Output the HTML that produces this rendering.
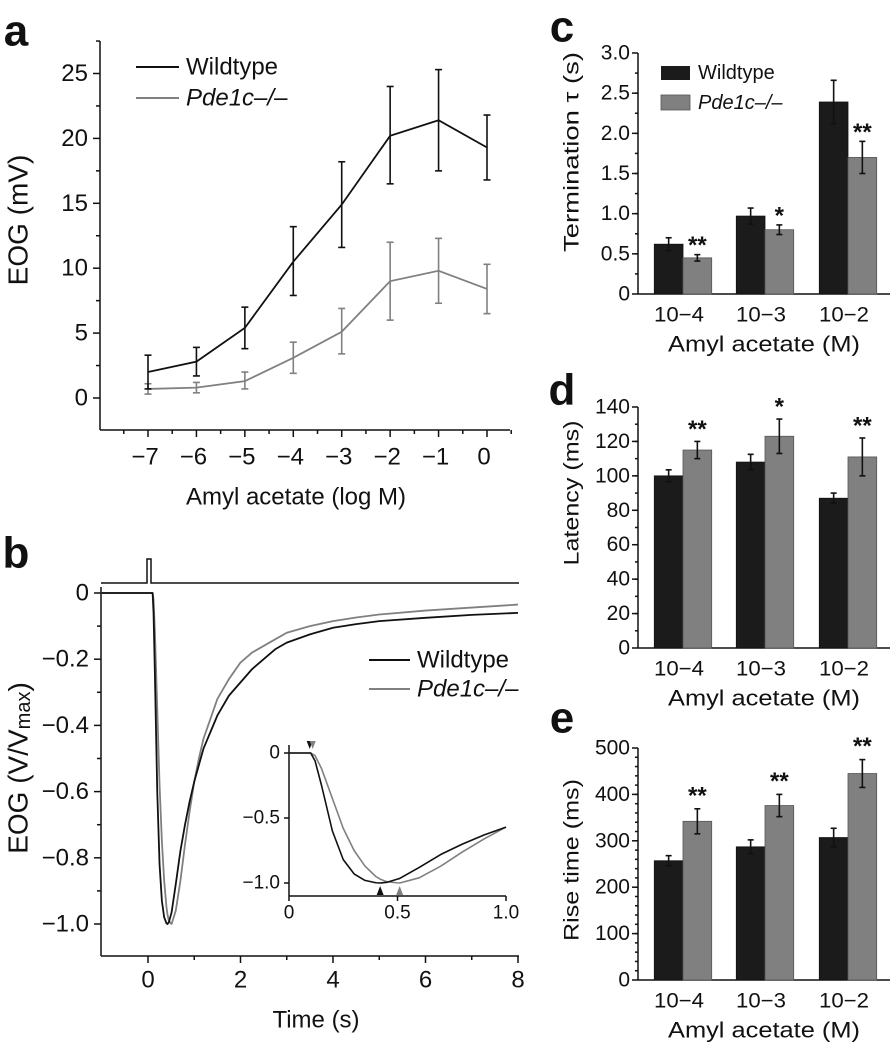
<!DOCTYPE html>
<html><head><meta charset="utf-8"><style>
html,body{margin:0;padding:0;background:#fff;}
svg{display:block;font-family:"Liberation Sans",Arial,sans-serif;}
</style></head><body>
<svg id="fig" width="890" height="1050" viewBox="0 0 890 1050" xmlns="http://www.w3.org/2000/svg"></svg>
<script>
// ---------- Panel a data ----------
const aConc = [-7,-6,-5,-4,-3,-2,-1,0];
const aWT = [2.0,2.8,5.4,10.5,14.9,20.2,21.4,19.3];
const aWTlo = [0.7,1.7,3.8,7.9,11.6,16.5,17.5,16.8];
const aWThi = [3.3,3.9,7.0,13.2,18.2,24.0,25.3,21.8];
const aKO = [0.7,0.8,1.3,3.1,5.1,9.0,9.8,8.4];
const aKOlo = [0.3,0.4,0.7,1.9,3.4,6.0,7.3,6.5];
const aKOhi = [1.1,1.2,2.0,4.3,6.9,12.0,12.3,10.3];
const aYTicks = [0,5,10,15,20,25];
const aXTicks = [-7,-6,-5,-4,-3,-2,-1,0];
// ---------- Panel b data ----------
const bTime = [-1,0,0.1,0.12,0.15,0.2,0.25,0.3,0.35,0.4,0.42,0.45,0.5,0.51,0.6,0.7,0.8,0.9,1.0,1.1,1.2,1.35,1.5,1.75,2,2.25,2.5,2.75,3,3.5,4,4.5,5,6,7,8];
const bWT = [0,0,0,-0.06,-0.25,-0.6,-0.82,-0.93,-0.98,-0.998,-1.0,-0.995,-0.97,-0.965,-0.88,-0.78,-0.7,-0.63,-0.57,-0.52,-0.47,-0.42,-0.37,-0.31,-0.27,-0.23,-0.2,-0.17,-0.15,-0.125,-0.105,-0.094,-0.085,-0.075,-0.066,-0.06];
const bKO = [0,0,0,-0.02,-0.12,-0.35,-0.58,-0.75,-0.87,-0.95,-0.97,-0.99,-0.999,-1.0,-0.96,-0.87,-0.76,-0.66,-0.57,-0.5,-0.44,-0.38,-0.32,-0.26,-0.21,-0.18,-0.16,-0.14,-0.12,-0.1,-0.085,-0.074,-0.065,-0.053,-0.044,-0.035];
const bYTicks = [0,-0.2,-0.4,-0.6,-0.8,-1.0];
const bYLabels = ["0","\u22120.2","\u22120.4","\u22120.6","\u22120.8","\u22121.0"];
const bXTicks = [0,2,4,6,8];
const insetXTicks = [0,0.5,1.0];
const insetXLabels = ["0","0.5","1.0"];
const insetYTicks = [0,-0.5,-1.0];
const insetYLabels = ["0","\u22120.5","\u22121.0"];
const peakWT = 0.42, peakKO = 0.51, onsetT = 0.1;
// ---------- Bar panels data ----------
const barCats = ["10\u22124","10\u22123","10\u22122"];
const cWT = [0.62,0.97,2.39], cWTerr = [0.08,0.10,0.27];
const cKO = [0.45,0.80,1.70], cKOerr = [0.04,0.06,0.20];
const cStars = ["**","*","**"];
const cTicks = [0,0.5,1.0,1.5,2.0,2.5,3.0];
const cTickLabels = ["0","0.5","1.0","1.5","2.0","2.5","3.0"];
const dWT = [100,108,87], dWTerr = [3.5,4.5,3];
const dKO = [115,123,111], dKOerr = [5,10,11];
const dStars = ["**","*","**"];
const dTicks = [0,20,40,60,80,100,120,140];
const eWT = [257,287,307], eWTerr = [11,15,20];
const eKO = [342,376,445], eKOerr = [27,24,30];
const eStars = ["**","**","**"];
const eTicks = [0,100,200,300,400,500];

const NS = "http://www.w3.org/2000/svg";
const svg = document.getElementById('fig');
function el(tag, attrs, name, parent){
  const e = document.createElementNS(NS, tag);
  for (const k in attrs) e.setAttribute(k, attrs[k]);
  
  
  (parent||svg).appendChild(e);
  return e;
}
function txt(x,y,s,size,name,opts){
  opts = opts||{};
  const t = el('text', {x:x,y:y,'font-size':size,'text-anchor':opts.anchor||'middle','dominant-baseline':'central',fill:opts.fill||'#111','font-weight':opts.weight||'normal','font-style':opts.style||'normal'}, name);
  if (opts.rot) t.setAttribute('transform','rotate(-90 '+x+' '+y+')');
  if (opts.len) { t.setAttribute('textLength', opts.len); t.setAttribute('lengthAdjust','spacingAndGlyphs'); }
  t.textContent = s;
  return t;
}
function line(x1,y1,x2,y2,name,stroke,w){
  return el('line',{x1:x1,y1:y1,x2:x2,y2:y2,stroke:stroke||'#111','stroke-width':w||1.5},name);
}
function errbar(x,y1,y2,cap,name,stroke){
  line(x,y1,x,y2,name,stroke,1.6);
  line(x-cap,y1,x+cap,y1,name+'-cap-top',stroke,1.6);
  line(x-cap,y2,x+cap,y2,name+'-cap-bottom',stroke,1.6);
}
const GRAY = '#808080';

// ================= Panel a =================
const xA = v => 148 + (v+7)*(487-148)/7;
const yA = v => 398 - v*(398-73.5)/25;
txt(16,31,'a',44,'panel-label-a',{weight:'bold'});
line(100,41,100,430,'a-y-axis');
line(100,430,510,430,'a-x-axis');
aYTicks.forEach(v=>{ line(93,yA(v),100,yA(v),'a-y-tick'); txt(88,yA(v),String(v),24,'a-y-tick-label',{anchor:'end'}); });
for (let v=-2.5; v<=27.5; v+=5){ if (yA(v)>41 && yA(v)<430) line(96,yA(v),100,yA(v),'a-y-minor-tick'); }
aXTicks.forEach(v=>{ line(xA(v),430,xA(v),437,'a-x-tick'); txt(xA(v)-3,457,v===0?'0':'\u2212'+Math.abs(v),24,'a-x-tick-label'); });
for (let v=-7.5; v<=0.5; v+=1){ line(xA(v),430,xA(v),434,'a-x-minor-tick'); }
txt(296,497,'Amyl acetate (log M)',24,'a-x-axis-title');
txt(18,220,'EOG (mV)',28,'a-y-axis-title',{rot:true});
el('polyline',{points:aConc.map((c,i)=>xA(c)+','+yA(aKO[i])).join(' '),fill:'none',stroke:GRAY,'stroke-width':1.8},'a-line-pde1c');
aConc.forEach((c,i)=>errbar(xA(c),yA(aKOhi[i]),yA(aKOlo[i]),3.5,'a-errorbar-pde1c',GRAY));
el('polyline',{points:aConc.map((c,i)=>xA(c)+','+yA(aWT[i])).join(' '),fill:'none',stroke:'#111','stroke-width':1.8},'a-line-wildtype');
aConc.forEach((c,i)=>errbar(xA(c),yA(aWThi[i]),yA(aWTlo[i]),3.5,'a-errorbar-wildtype','#111'));
line(136,67,179,67,'a-legend-swatch-wildtype','#111',2);
txt(186,67,'Wildtype',24,'a-legend-label-wildtype',{anchor:'start'});
line(136,98,179,98,'a-legend-swatch-pde1c',GRAY,2);
txt(186,98,'Pde1c\u2013/\u2013',24,'a-legend-label-pde1c',{anchor:'start',style:'italic'});

// ================= Panel b =================
const xB = t => 148 + t*46.25;
const yB = v => 593 - v*331;
txt(16,553,'b',44,'panel-label-b',{weight:'bold'});
el('polyline',{points:'101,583 147,583 147,559 151,559 151,583 519,583',fill:'none',stroke:'#111','stroke-width':1.5},'b-stimulus-trace');
line(101,587,101,956,'b-y-axis');
line(101,956,519,956,'b-x-axis');
bYTicks.forEach((v,i)=>{ line(94,yB(v),101,yB(v),'b-y-tick'); txt(89,yB(v),bYLabels[i],24,'b-y-tick-label',{anchor:'end'}); });
for (let v=-0.1; v>=-1.05; v-=0.2){ line(97,yB(v),101,yB(v),'b-y-minor-tick'); }
bXTicks.forEach(t=>{ line(xB(t),956,xB(t),963,'b-x-tick'); txt(xB(t),980,String(t),24,'b-x-tick-label'); });
for (let t=1; t<8; t+=2){ line(xB(t),956,xB(t),960,'b-x-minor-tick'); }
txt(316,1020,'Time (s)',24,'b-x-axis-title');
const bYT = el('text',{x:18,y:768,'font-size':28,'text-anchor':'middle','dominant-baseline':'central',fill:'#111',transform:'rotate(-90 18 768)'},'b-y-axis-title');
bYT.innerHTML = 'EOG (V/V<tspan font-size="20" dy="6">max</tspan><tspan dy="-6">)</tspan>';
el('polyline',{points:bTime.map((t,i)=>xB(t)+','+yB(bKO[i])).join(' '),fill:'none',stroke:GRAY,'stroke-width':1.8,'stroke-linejoin':'round'},'b-curve-pde1c');
el('polyline',{points:bTime.map((t,i)=>xB(t)+','+yB(bWT[i])).join(' '),fill:'none',stroke:'#111','stroke-width':1.8,'stroke-linejoin':'round'},'b-curve-wildtype');
line(369,660,410,660,'b-legend-swatch-wildtype','#111',2);
txt(417,660,'Wildtype',24,'b-legend-label-wildtype',{anchor:'start'});
line(369,689,410,689,'b-legend-swatch-pde1c',GRAY,2);
txt(417,689,'Pde1c\u2013/\u2013',24,'b-legend-label-pde1c',{anchor:'start',style:'italic'});
// inset
const xI = t => 289 + t*217;
const yI = v => 753 - v*130;
line(289,745,289,896,'inset-y-axis');
line(289,896,506,896,'inset-x-axis');
insetYTicks.forEach((v,i)=>{ line(284,yI(v),289,yI(v),'inset-y-tick'); txt(280,yI(v),insetYLabels[i],19,'inset-y-tick-label',{anchor:'end'}); });
insetXTicks.forEach((t,i)=>{ line(xI(t),896,xI(t),901,'inset-x-tick'); txt(xI(t),913,insetXLabels[i],19,'inset-x-tick-label'); });
const insIdx = bTime.map((t,i)=>i).filter(i=>bTime[i]>=0 && bTime[i]<=1.0);
el('polyline',{points:insIdx.map(i=>xI(bTime[i])+','+yI(bKO[i])).join(' '),fill:'none',stroke:GRAY,'stroke-width':1.6,'stroke-linejoin':'round'},'inset-curve-pde1c');
el('polyline',{points:insIdx.map(i=>xI(bTime[i])+','+yI(bWT[i])).join(' '),fill:'none',stroke:'#111','stroke-width':1.6,'stroke-linejoin':'round'},'inset-curve-wildtype');
const ox = xI(onsetT);
el('polygon',{points:(ox-4)+',741 '+(ox+2)+',741 '+(ox-1)+',749',fill:'#111'},'inset-onset-marker-wildtype');
el('polygon',{points:(ox-1)+',741 '+(ox+5)+',741 '+(ox+2)+',749',fill:GRAY},'inset-onset-marker-pde1c');
const pw = xI(peakWT), pk = xI(peakKO);
el('polygon',{points:(pw-3.5)+',895 '+(pw+3.5)+',895 '+pw+',886',fill:'#111'},'inset-peak-marker-wildtype');
el('polygon',{points:(pk-3.5)+',895 '+(pk+3.5)+',895 '+pk+',886',fill:GRAY},'inset-peak-marker-pde1c');

// ================= Bar panels =================
const catX = [683,765,848];
const BW = 28.7;
function barPanel(id, y0, yTop, vmax, ticks, tickLabels, minorStep, WT, WTerr, KO, KOerr, stars, starYOff){
  const y = v => y0 - v*(y0-yTop)/vmax;
  line(638,yTop,638,y0,id+'-y-axis');
  line(638,y0,890,y0,id+'-x-axis');
  ticks.forEach((v,i)=>{ line(632,y(v),638,y(v),id+'-y-tick'); txt(630,y(v),tickLabels[i],21,id+'-y-tick-label',{anchor:'end'}); });
  for (let v=minorStep; v<vmax; v+=minorStep){ line(635,y(v),638,y(v),id+'-y-minor-tick'); }
  barCats.forEach((c,i)=>{
    el('rect',{x:catX[i]-BW,y:y(WT[i]),width:BW,height:y0-y(WT[i]),fill:'#1b1b1b',stroke:'#111','stroke-width':0.8},id+'-bar-wildtype');
    el('rect',{x:catX[i],y:y(KO[i]),width:BW,height:y0-y(KO[i]),fill:'#808080',stroke:'#555','stroke-width':0.8},id+'-bar-pde1c');
    errbar(catX[i]-BW/2,y(WT[i]+WTerr[i]),y(WT[i]-WTerr[i]),3,id+'-errorbar-wildtype','#111');
    errbar(catX[i]+BW/2,y(KO[i]+KOerr[i]),y(KO[i]-KOerr[i]),3,id+'-errorbar-pde1c','#111');
    txt(catX[i]+BW/2,y(KO[i]+KOerr[i])-starYOff,stars[i],24,id+'-significance-stars',{weight:'bold'});
    txt(catX[i]-4,y0+21,c,21,id+'-x-tick-label',{len:50});
  });
  txt(764,y0+50,'Amyl acetate (M)',22,id+'-x-axis-title',{len:192});
}
// c
txt(562,27,'c',44,'panel-label-c',{weight:'bold'});
barPanel('c',294,53,3.0,cTicks,cTickLabels,0.25,cWT,cWTerr,cKO,cKOerr,cStars,9);
txt(572,152,'Termination \u03c4 (s)',21,'c-y-axis-title',{rot:true,len:200});
el('rect',{x:661,y:66,width:29,height:14,fill:'#1b1b1b'},'c-legend-swatch-wildtype');
txt(698,73,'Wildtype',20,'c-legend-label-wildtype',{anchor:'start'});
el('rect',{x:661,y:95,width:29,height:15,fill:'#808080',stroke:'#555','stroke-width':0.8},'c-legend-swatch-pde1c');
txt(698,103,'Pde1c\u2013/\u2013',20,'c-legend-label-pde1c',{anchor:'start',style:'italic'});
// d
txt(562,390,'d',44,'panel-label-d',{weight:'bold'});
barPanel('d',648,407,140,dTicks,dTicks.map(String),10,dWT,dWTerr,dKO,dKOerr,dStars,12);
txt(572,493,'Latency (ms)',21,'d-y-axis-title',{rot:true,len:145});
// e
txt(562,718,'e',44,'panel-label-e',{weight:'bold'});
barPanel('e',980,748,500,eTicks,eTicks.map(String),20,eWT,eWTerr,eKO,eKOerr,eStars,13);
txt(572,860,'Rise time (ms)',21,'e-y-axis-title',{rot:true,len:162});
</script>
</body></html>
